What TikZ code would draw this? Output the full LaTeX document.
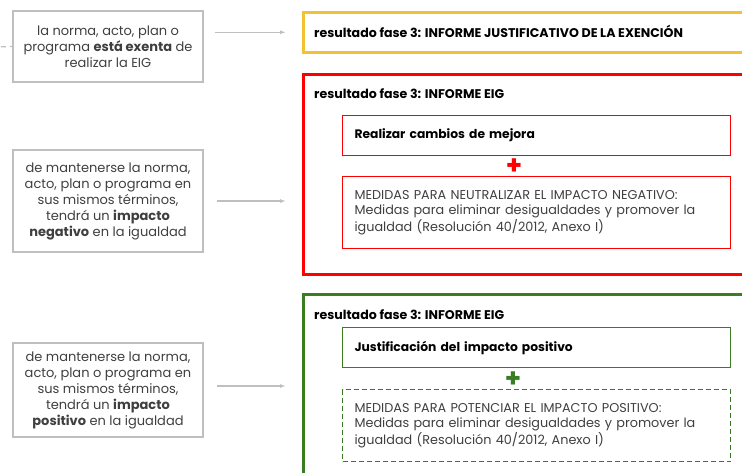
\documentclass[tikz,border=0pt]{standalone}
\usepackage{fontspec}
\setmainfont{Poppins}
\usetikzlibrary{positioning, arrows.meta}
\definecolor{boxgray}{HTML}{BFBFBF}
\definecolor{txtgray}{HTML}{3F3F3F}
\definecolor{exgold}{HTML}{F2C232}
\definecolor{negred}{HTML}{FF0000}
\definecolor{posgreen}{HTML}{3B7D23}

\begin{document}
\begin{tikzpicture}[x=1pt, y=-1pt, >={Latex[length=6pt,width=4pt]},
	srcbox/.style={draw=boxgray, line width=1.5pt, minimum width=190, align=center,
		text=txtgray, font=\fontsize{13}{16}\selectfont},
	frame/.style={line width=2.6pt, minimum width=480, anchor=north west},
	title/.style={anchor=west, inner sep=0pt, font=\fontsize{12.6}{14}\selectfont\bfseries},
	inbox/.style={line width=1.1pt, anchor=north west, text width=364, inner xsep=12,
		align=left, font=\fontsize{12.8}{15.5}\selectfont},
	inbold/.style={font=\fontsize{12.3}{15}\selectfont\bfseries},
	link/.style={->, draw=boxgray, line width=1.1pt},
	plus/.style={font=\fontsize{26}{26}\selectfont\bfseries, inner sep=0pt}]
	
	% Fix the size of the picture
	\useasboundingbox (0,0) rectangle (742,472);
	\clip (0,0) rectangle (742,472);
	
	% Draw the three cases on the left
	\node[srcbox, minimum height=71] (exenta) at (108,46.5)
		{la norma, acto, plan o\\ programa \textbf{está exenta} de\\ realizar la EIG};
	\node[srcbox, minimum height=102] (negativo) at (108,201)
		{de mantenerse la norma,\\ acto, plan o programa en\\ sus mismos términos,\\ tendrá un \textbf{impacto}\\ \textbf{negativo} en la igualdad};
	\node[srcbox, minimum height=94] (positivo) at (108,390)
		{de mantenerse la norma,\\ acto, plan o programa en\\ sus mismos términos,\\ tendrá un \textbf{impacto}\\ \textbf{positivo} en la igualdad};
	
	% dashed line coming in from the left
	\coordinate (entrada) at (-8,47);
	\draw[draw=boxgray, line width=1.2pt, dash pattern=on 5pt off 4pt] (entrada) -- (exenta.west);
	
	% result of the exemption
	\node[frame, draw=exgold, minimum height=40] (exencion) at (302,11) {};
	\node[title] (tituloex) at (314,31) {resultado fase 3: INFORME JUSTIFICATIVO DE LA EXENCIÓN};
	
	% result for negative impact
	\node[frame, draw=negred, minimum height=200] (informeneg) at (302,73) {};
	\node[title] (tituloneg) at (314,94) {resultado fase 3: INFORME EIG};
	\node[inbox, inbold, draw=negred, minimum height=40] (mejora) at (342,115) {Realizar cambios de mejora};
	\node[plus, text=negred] (masneg) at (514,167) {+};
	\node[inbox, draw=negred, minimum height=72, text=txtgray] (neutralizar) at (342,176)
		{MEDIDAS PARA NEUTRALIZAR EL IMPACTO NEGATIVO:\\ Medidas para eliminar desigualdades y promover la\\ igualdad (Resolución 40/2012, Anexo I)};
	
	% result for positive impact
	\node[frame, draw=posgreen, minimum height=200] (informepos) at (302,293) {};
	\node[title] (titulopos) at (314,315) {resultado fase 3: INFORME EIG};
	\node[inbox, inbold, draw=posgreen, minimum height=40] (justificacion) at (342,327) {Justificación del impacto positivo};
	\node[plus, text=posgreen] (maspos) at (513,380) {+};
	\node[inbox, draw=posgreen, dash pattern=on 5pt off 3pt, minimum height=72, text=txtgray] (potenciar) at (342,389)
		{MEDIDAS PARA POTENCIAR EL IMPACTO POSITIVO:\\ Medidas para eliminar desigualdades y promover la\\ igualdad (Resolución 40/2012, Anexo I)};
	
	% Draw the arrows
	\draw[link] ([xshift=11]exenta.east |- exencion.west) -- ([xshift=-16]exencion.west);
	\draw[link] ([xshift=13]negativo.east) -- ([xshift=-16]negativo.east -| informeneg.west);
	\draw[link] ([xshift=13, yshift=4]positivo.east) -- ([xshift=-16, yshift=4]positivo.east -| informepos.west);
	
\end{tikzpicture}
\end{document}
